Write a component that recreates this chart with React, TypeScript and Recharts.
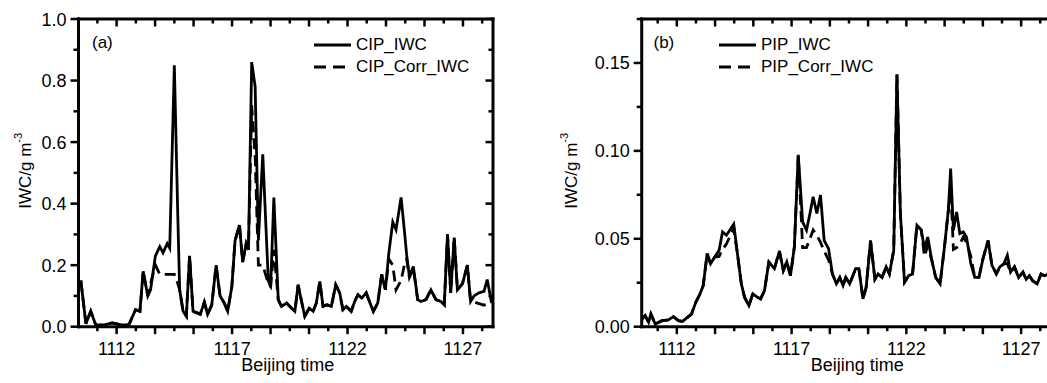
import React from 'react';
import { LineChart, Line, XAxis, YAxis, Legend, ReferenceLine } from 'recharts';

const FONT = '"Liberation Sans", Arial, Helvetica, sans-serif';

// (a) CIP probe, time in hhmm (Beijing time)
const cipTime = [
  1110.45, 1110.67, 1110.88, 1111.1, 1111.45, 1111.81, 1112.2, 1112.53, 1112.82, 1113.01,
  1113.15, 1113.35, 1113.47, 1113.68, 1113.87, 1114.01, 1114.19, 1114.3, 1114.5, 1114.65,
  1114.73, 1114.88, 1115.02, 1115.16, 1115.31, 1115.48, 1115.62, 1115.8, 1115.94, 1116.12,
  1116.31, 1116.48, 1116.66, 1116.81, 1116.99, 1117.13, 1117.32, 1117.46, 1117.61, 1117.71,
  1117.85, 1118.0, 1118.14, 1118.33, 1118.57, 1118.67, 1118.81, 1119.0, 1119.14, 1119.36,
  1119.58, 1119.72, 1119.86, 1120.01, 1120.15, 1120.34, 1120.51, 1120.65, 1120.8, 1120.94,
  1121.11, 1121.3, 1121.49, 1121.66, 1121.8, 1121.95, 1122.16, 1122.31, 1122.45, 1122.62,
  1122.81, 1122.95, 1123.12, 1123.31, 1123.48, 1123.64, 1123.79, 1123.96, 1124.1, 1124.32,
  1124.46, 1124.56, 1124.68, 1124.85, 1125.04, 1125.18, 1125.4, 1125.61, 1125.83, 1126.04,
  1126.19, 1126.33, 1126.47, 1126.62, 1126.76, 1126.98, 1127.19, 1127.33, 1127.48, 1127.69,
  1127.91, 1128.05, 1128.24,
];
const cipIwc = [
  0.15, 0.01, 0.05, 0.005, 0.006, 0.012, 0.006, 0.006, 0.055, 0.05,
  0.18, 0.1, 0.12, 0.23, 0.26, 0.24, 0.27, 0.255, 0.85, 0.36,
  0.12, 0.05, 0.034, 0.23, 0.05, 0.045, 0.04, 0.08, 0.04, 0.07,
  0.2, 0.1, 0.077, 0.05, 0.13, 0.28, 0.33, 0.21, 0.27, 0.25,
  0.86, 0.78, 0.28, 0.56, 0.15, 0.13, 0.42, 0.088, 0.066, 0.077,
  0.06, 0.05, 0.136, 0.082, 0.034, 0.06, 0.05, 0.077, 0.147, 0.066,
  0.071, 0.066, 0.136, 0.11, 0.055, 0.066, 0.05, 0.082, 0.104, 0.093,
  0.11, 0.082, 0.05, 0.077, 0.17, 0.12, 0.24, 0.34, 0.315, 0.42,
  0.315, 0.234, 0.163, 0.196, 0.088, 0.082, 0.088, 0.12, 0.088, 0.082,
  0.071, 0.3, 0.11, 0.29, 0.12, 0.14, 0.2, 0.082, 0.1, 0.11,
  0.115, 0.153, 0.077,
];
const cipCorrIwc = [
  0.15, 0.01, 0.05, 0.005, 0.006, 0.012, 0.006, 0.006, 0.055, 0.05,
  0.18, 0.1, 0.14, 0.2, 0.17, 0.17, 0.17, 0.17, 0.17, 0.14,
  0.12, 0.05, 0.034, 0.23, 0.05, 0.045, 0.04, 0.08, 0.04, 0.07,
  0.2, 0.1, 0.077, 0.05, 0.13, 0.28, 0.33, 0.21, 0.27, 0.25,
  0.72, 0.55, 0.2, 0.2, 0.14, 0.13, 0.25, 0.088, 0.066, 0.077,
  0.06, 0.05, 0.136, 0.082, 0.034, 0.06, 0.05, 0.077, 0.147, 0.066,
  0.071, 0.066, 0.136, 0.11, 0.055, 0.066, 0.05, 0.082, 0.104, 0.093,
  0.11, 0.082, 0.05, 0.077, 0.17, 0.12, 0.22, 0.2, 0.12, 0.15,
  0.2, 0.22, 0.16, 0.19, 0.088, 0.082, 0.088, 0.12, 0.088, 0.082,
  0.071, 0.3, 0.11, 0.29, 0.12, 0.14, 0.2, 0.082, 0.08, 0.075,
  0.07, 0.075, 0.077,
];

// (b) PIP probe
const pipTime = [
  1110.48, 1110.62, 1110.77, 1110.87, 1111.06, 1111.35, 1111.63, 1111.85, 1112.07, 1112.25,
  1112.46, 1112.64, 1112.83, 1113.01, 1113.15, 1113.32, 1113.47, 1113.65, 1113.84, 1113.99,
  1114.16, 1114.48, 1114.66, 1114.81, 1114.95, 1115.14, 1115.31, 1115.5, 1115.65, 1115.82,
  1116.01, 1116.25, 1116.47, 1116.64, 1116.79, 1116.95, 1117.12, 1117.29, 1117.41, 1117.48,
  1117.65, 1117.8, 1117.94, 1118.1, 1118.26, 1118.42, 1118.61, 1118.78, 1118.95, 1119.1,
  1119.24, 1119.36, 1119.53, 1119.67, 1119.79, 1119.93, 1120.11, 1120.25, 1120.44, 1120.63,
  1120.77, 1120.94, 1121.12, 1121.26, 1121.45, 1121.59, 1121.74, 1121.92, 1122.1, 1122.27,
  1122.46, 1122.65, 1122.79, 1122.93, 1123.11, 1123.28, 1123.47, 1123.66, 1123.83, 1123.93,
  1124.05, 1124.19, 1124.33, 1124.48, 1124.62, 1124.81, 1124.98, 1125.16, 1125.34, 1125.56,
  1125.73, 1125.92, 1126.07, 1126.25, 1126.4, 1126.54, 1126.71, 1126.89, 1127.08, 1127.22,
  1127.36, 1127.51, 1127.7, 1127.87, 1128.01, 1128.2,
];
const pipIwc = [
  0.0044, 0.0063, 0.0025, 0.0072, 0.0015, 0.0034, 0.0038, 0.0057, 0.0034, 0.003,
  0.0053, 0.0072, 0.014, 0.0187, 0.0234, 0.0415, 0.0358, 0.0396, 0.0434, 0.0539,
  0.052, 0.0583, 0.0396, 0.0244, 0.0168, 0.012, 0.0187, 0.0168, 0.0158, 0.0206,
  0.0368, 0.033, 0.043, 0.032, 0.0368, 0.029, 0.0453, 0.0977, 0.0739, 0.0596,
  0.0549, 0.0644, 0.0739, 0.0644, 0.0749, 0.049, 0.0444, 0.03, 0.0244, 0.028,
  0.0234, 0.028, 0.0244, 0.029, 0.033, 0.033, 0.0158, 0.0225, 0.049, 0.027,
  0.03, 0.028, 0.034, 0.03, 0.0434, 0.1434, 0.0644, 0.0253, 0.029, 0.03,
  0.0577, 0.0549, 0.0444, 0.051, 0.0377, 0.028, 0.0244, 0.0453, 0.0663, 0.09,
  0.0549, 0.0653, 0.053, 0.054, 0.051, 0.0358, 0.028, 0.028, 0.0387, 0.049,
  0.0349, 0.03, 0.034, 0.0358, 0.0406, 0.031, 0.034, 0.028, 0.031, 0.027,
  0.029, 0.026, 0.0244, 0.03, 0.029, 0.03,
];
const pipCorrIwc = [
  0.0044, 0.0063, 0.0025, 0.0072, 0.0015, 0.0034, 0.0038, 0.0057, 0.0034, 0.003,
  0.0053, 0.0072, 0.014, 0.0187, 0.0234, 0.0415, 0.0358, 0.0396, 0.04, 0.044,
  0.047, 0.056, 0.0396, 0.0244, 0.0168, 0.012, 0.0187, 0.0168, 0.0158, 0.0206,
  0.0368, 0.033, 0.043, 0.032, 0.0368, 0.029, 0.0453, 0.0977, 0.065, 0.045,
  0.045, 0.05, 0.055, 0.052, 0.048, 0.043, 0.038, 0.03, 0.0244, 0.028,
  0.0234, 0.028, 0.0244, 0.029, 0.033, 0.033, 0.0158, 0.0225, 0.049, 0.027,
  0.03, 0.028, 0.034, 0.03, 0.0434, 0.1434, 0.0644, 0.0253, 0.029, 0.03,
  0.0577, 0.0549, 0.04, 0.046, 0.0377, 0.028, 0.0244, 0.0453, 0.0663, 0.08,
  0.044, 0.045, 0.047, 0.051, 0.048, 0.04, 0.028, 0.028, 0.0387, 0.049,
  0.0349, 0.03, 0.034, 0.0358, 0.036, 0.031, 0.034, 0.028, 0.031, 0.027,
  0.029, 0.026, 0.0244, 0.03, 0.029, 0.03,
];

const xLabels = [1112, 1117, 1122, 1127];
const cipYMajor = [0, 0.2, 0.4, 0.6, 0.8, 1.0];
const cipYMinor = [0.1, 0.3, 0.5, 0.7, 0.9];
const pipYMajor = [0, 0.05, 0.1, 0.15];
const pipYMinor = [0.025, 0.075, 0.125, 0.175];

// ticks every 50 s (long ones every 100 s)
const xAll = Array.from({ length: 21 }, (_, i) => 1112 + ((i - 1) * 5) / 6);
const xMajor = xAll.filter((_, i) => (i - 1) % 2 === 0);
const xMinor = xAll.filter((_, i) => (i - 1) % 2 !== 0);

const cipData = cipTime.map((t, i) => ({ t, raw: cipIwc[i], corr: cipCorrIwc[i] }));
const pipData = pipTime.map((t, i) => ({ t, raw: pipIwc[i], corr: pipCorrIwc[i] }));

const near = (list: number[], v: number) => list.find((l) => Math.abs(l - v) < 1e-6);

const THIN = 0.01;
const TOP = 19;
const BOTTOM = 56.3;
const HEIGHT = 383;
const AXIS_LINE = { stroke: '#000', strokeWidth: 3, strokeLinecap: 'square' as const };
const LONG = 7.5;
const SHORT = 4.5;

const BottomLabel = ({ x = 0, y = 0, payload }: any) => {
  const label = near(xLabels, payload?.value ?? 0);
  if (label === undefined) return <g />;
  return (
    <text x={x} y={y + 28.5} textAnchor="middle" fontSize={18} fontFamily={FONT} fill="#000">
      {label}
    </text>
  );
};

const makeLeftLabel = (digits: number) => ({ x = 0, y = 0, payload }: any) => (
  <text x={x - 12} y={y + 6.5} textAnchor="end" fontSize={18} fontFamily={FONT} fill="#000">
    {(payload?.value ?? 0).toFixed(digits)}
  </text>
);

const XTitle = ({ viewBox, shift = 0 }: any) => (
  <text
    x={viewBox.x + viewBox.width / 2 + shift}
    y={viewBox.y + 44}
    textAnchor="middle"
    fontSize={18}
    fontFamily={FONT}
    fill="#000"
  >
    Beijing time
  </text>
);

const YTitle = ({ viewBox, dx }: any) => {
  const cy = viewBox.y + viewBox.height / 2 - 2;
  return (
    <text
      transform={`translate(${viewBox.x + dx},${cy}) rotate(-90)`}
      textAnchor="middle"
      fontSize={17}
      fontFamily={FONT}
      fill="#000"
    >
      IWC/g m
      <tspan dy={-9} fontSize={11}>
        -3
      </tspan>
    </text>
  );
};

const LegendBox = ({ payload }: any) => {
  const items = [...(payload || [])].sort((a: any, b: any) => (a.dataKey === 'raw' ? -1 : b.dataKey === 'raw' ? 1 : 0));
  return (
    <div style={{ fontFamily: FONT, fontSize: 17, color: '#000' }}>
      {items.map((e: any) => (
        <div key={e.value} style={{ display: 'flex', alignItems: 'center', height: 22.5, whiteSpace: 'nowrap' }}>
          <svg width={37} height={8} style={{ display: 'block' }}>
            <line
              x1={0}
              x2={37}
              y1={4}
              y2={4}
              stroke="#000"
              strokeWidth={3}
              strokeDasharray={e.payload?.strokeDasharray ? '12 7' : undefined}
            />
          </svg>
          <span style={{ marginLeft: 5 }}>{e.value}</span>
        </div>
      ))}
    </div>
  );
};

interface PanelProps {
  data: { t: number; raw: number; corr: number }[];
  left: number;
  width: number;
  marginLeft: number;
  marginRight: number;
  xDomain: [number, number];
  yDomain: [number, number];
  yMajor: number[];
  yMinor: number[];
  digits: number;
  rawName: string;
  corrName: string;
  legendLeft: number;
  tag: string;
  tagLeft: number;
  titleDx: number;
  labelShift: number;
}

// tick marks on all four sides of the frame, as short segments in data units
const frameTicks = (p: PanelProps) => {
  const [x0, x1] = p.xDomain;
  const [y0, y1] = p.yDomain;
  const ux = (x1 - x0) / (p.width - p.marginLeft - p.marginRight);
  const uy = (y1 - y0) / (HEIGHT - TOP - BOTTOM);
  const segs: [number, number, number, number][] = [];
  const xs = [...xMajor.map((t) => [t, LONG]), ...xMinor.map((t) => [t, SHORT])];
  xs.forEach(([t, len]) => {
    segs.push([t, y0, t, y0 - len * uy]); // bottom, outward
    segs.push([t, y1, t, y1 - len * uy]); // top, inward
  });
  const ys = [...p.yMajor.map((v) => [v, LONG]), ...p.yMinor.map((v) => [v, SHORT])];
  ys.forEach(([v, len]) => {
    segs.push([x0, v, x0 - (len + 0.5) * ux, v]); // left, outward
    segs.push([x1, v, x1 - len * ux, v]); // right, inward
  });
  return segs.map(([ax, ay, bx, by], i) => (
    <ReferenceLine
      key={`tk${i}`}
      segment={[
        { x: ax, y: ay },
        { x: bx, y: by },
      ]}
      stroke="#000"
      strokeWidth={2.5}
      ifOverflow="visible"
    />
  ));
};

const Panel = (p: PanelProps) => {
  const xCommon = {
    dataKey: 't',
    type: 'number' as const,
    domain: p.xDomain,
    allowDataOverflow: true,
    interval: 0 as const,
    height: THIN,
    tickLine: false,
  };
  const yCommon = {
    type: 'number' as const,
    domain: p.yDomain,
    allowDataOverflow: true,
    interval: 0 as const,
    width: THIN,
    tickLine: false,
  };
  return (
    <div style={{ position: 'absolute', left: p.left, top: 0, width: p.width, height: HEIGHT }}>
      <LineChart
        width={p.width}
        height={HEIGHT}
        data={p.data}
        margin={{ top: TOP, right: p.marginRight, bottom: BOTTOM, left: p.marginLeft }}
      >
        <XAxis
          {...xCommon}
          ticks={xMajor}
          tickSize={0}
          tickMargin={0}
          axisLine={AXIS_LINE}
          tick={BottomLabel}
          label={<XTitle shift={p.labelShift} />}
        />
        <XAxis {...xCommon} xAxisId="top" orientation="top" ticks={xMajor} axisLine={AXIS_LINE} tick={false} />
        <YAxis
          {...yCommon}
          ticks={p.yMajor}
          tickSize={0}
          tickMargin={0}
          axisLine={AXIS_LINE}
          tick={makeLeftLabel(p.digits)}
          label={<YTitle dx={p.titleDx} />}
        />
        <YAxis {...yCommon} yAxisId="right" orientation="right" ticks={p.yMajor} axisLine={AXIS_LINE} tick={false} />
        {frameTicks(p)}
        <Legend
          layout="vertical"
          align="center"
          verticalAlign="middle"
          content={<LegendBox />}
          wrapperStyle={{ left: p.legendLeft, top: 33.6, width: 'auto' }}
        />
        <Line
          name={p.rawName}
          dataKey="raw"
          type="linear"
          stroke="#000"
          strokeWidth={2.8}
          dot={false}
          activeDot={false}
          isAnimationActive={false}
        />
        <Line
          name={p.corrName}
          dataKey="corr"
          type="linear"
          stroke="#000"
          strokeWidth={2.8}
          strokeDasharray="11 6"
          dot={false}
          activeDot={false}
          isAnimationActive={false}
        />
      </LineChart>
      <div
        style={{
          position: 'absolute',
          left: p.tagLeft,
          top: 33.6,
          fontFamily: FONT,
          fontSize: 17,
          lineHeight: 1,
          color: '#000',
        }}
      >
        {p.tag}
      </div>
    </div>
  );
};

export default function App() {
  return (
    <div
      style={{
        position: 'fixed',
        left: 0,
        top: 0,
        width: 1047,
        height: HEIGHT,
        overflow: 'hidden',
        background: '#fff',
      }}
    >
      <Panel
        data={cipData}
        left={0}
        width={520}
        marginLeft={78.5}
        marginRight={27}
        xDomain={[1110.35, 1128.3]}
        yDomain={[0, 1]}
        yMajor={cipYMajor}
        yMinor={cipYMinor}
        digits={1}
        rawName="CIP_IWC"
        corrName="CIP_Corr_IWC"
        legendLeft={314}
        tag="(a)"
        tagLeft={92}
        titleDx={-47.8}
        labelShift={2}
      />
      <Panel
        data={pipData}
        left={541}
        width={540}
        marginLeft={100.7}
        marginRight={8}
        xDomain={[1110.47, 1129.26]}
        yDomain={[0, 0.175]}
        yMajor={pipYMajor}
        yMinor={pipYMinor}
        digits={2}
        rawName="PIP_IWC"
        corrName="PIP_Corr_IWC"
        legendLeft={178}
        tag="(b)"
        tagLeft={112.5}
        titleDx={-65}
        labelShift={0}
      />
    </div>
  );
}
